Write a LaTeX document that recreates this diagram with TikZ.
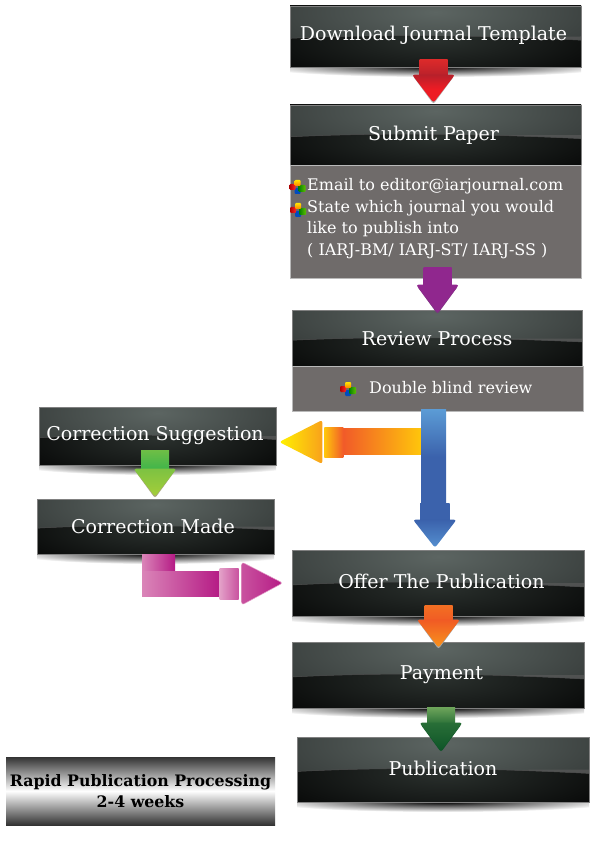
\documentclass[tikz,border=0pt]{standalone}
\usepackage{fontspec}
\setmainfont{DejaVu Serif}
\usetikzlibrary{calc}
\definecolor{glosscore}{HTML}{5C6562}
\definecolor{glossedge}{HTML}{2A2E2D}
\definecolor{lowcore}{HTML}{2A302D}
\definecolor{graybody}{HTML}{6F6B6A}
\definecolor{cRedA}{HTML}{DD2A2A}\definecolor{cRedB}{HTML}{B7202A}\definecolor{cRedC}{HTML}{ED1C24}
\definecolor{cPurple}{HTML}{90278E}\definecolor{cPurpleS}{HTML}{7A3580}
\definecolor{cLimeA}{HTML}{6EBE46}\definecolor{cLimeB}{HTML}{3CB44B}\definecolor{cLimeC}{HTML}{7DC242}\definecolor{cLimeD}{HTML}{A6CE39}\definecolor{cLimeS}{HTML}{AAA582}
\definecolor{cOrA}{HTML}{F26F23}\definecolor{cOrB}{HTML}{F15A24}\definecolor{cOrC}{HTML}{F7941D}
\definecolor{cFoA}{HTML}{6EA55A}\definecolor{cFoB}{HTML}{286E37}\definecolor{cFoC}{HTML}{0F5528}
\definecolor{cBlA}{HTML}{5B9BD5}\definecolor{cBlB}{HTML}{3B62AC}\definecolor{cBlC}{HTML}{5590D0}
\definecolor{cYeA}{HTML}{FFF200}\definecolor{cYeB}{HTML}{FFC60B}\definecolor{cYeC}{HTML}{F15A29}\definecolor{cYeD}{HTML}{F9A11B}
\definecolor{cMaA}{HTML}{DA85B8}\definecolor{cMaB}{HTML}{B51B85}\definecolor{cMaC}{HTML}{C9529F}\definecolor{cMaD}{HTML}{E3A0C8}
\tikzset{
  x=1pt,y=-1pt,
  titletext/.style={text=white,font=\fontsize{19}{22}\selectfont},
  bodytext/.style={text=white,font=\fontsize{16}{21.7}\selectfont},
  grayboxstyle/.style={fill=graybody,draw=gray!55,line width=.5pt,inner sep=0pt},
  redshaft/.style={top color=cRedA,bottom color=cRedB},
  redhead/.style={top color=cRedB,bottom color=cRedC,middle color=cRedC},
  redshadow/.style={fill=gray!60},
  purpleshaft/.style={top color=cPurple,bottom color=cPurple},
  purplehead/.style={top color=cPurple,bottom color=cPurple},
  purpleshadow/.style={fill=cPurpleS},
  limeshaft/.style={top color=cLimeA,bottom color=cLimeB},
  limehead/.style={top color=cLimeC,bottom color=cLimeD},
  limeshadow/.style={fill=cLimeS},
  orangeshaft/.style={top color=cOrA,bottom color=cOrB},
  orangehead/.style={top color=cOrB,bottom color=cOrC},
  orangeshadow/.style={fill=gray!70},
  forestshaft/.style={top color=cFoA,bottom color=cFoB},
  foresthead/.style={top color=cFoB,bottom color=cFoC},
  forestshadow/.style={fill=cFoC},
}
\newcommand\panel[8]{% name x0 y0 x1 y1 text dx dy
  \pgfmathsetmacro\pW{#4-#2}\pgfmathsetmacro\pH{#5-#3}
  \pgfmathsetmacro\pCx{(#2+#4)/2}\pgfmathsetmacro\pCy{(#3+#5)/2}
  \begin{scope}
    \clip (#2,#5) rectangle (#4,#5+12);
    \shade[inner color=black,outer color=white] (\pCx,#5) ellipse ({\pW*.6} and 10);
  \end{scope}
  \begin{scope}[shift={(#2,#3)}]
    \clip (0,0) rectangle (\pW,\pH);
    \fill[black] (0,0) rectangle (\pW,\pH);
    \shade[inner color=lowcore,outer color=black] (\pW/2,.55*\pH) ellipse ({.8*\pW} and {.95*\pH});
    \begin{scope}
      \clip (0,0) -- (\pW,0) -- (\pW,.56*\pH) .. controls (.7*\pW,.49*\pH) and (.35*\pW,.45*\pH) .. (0,.53*\pH) -- cycle;
      \fill[glossedge] (0,0) rectangle (\pW,\pH);
      \shade[inner color=glosscore,outer color=glossedge] (\pW/2,.1*\pH) ellipse ({.85*\pW} and {1.2*\pH});
    \end{scope}
    \fill[gray!70!black,opacity=.7] (.72*\pW,.505*\pH) .. controls (.85*\pW,.53*\pH) and (.92*\pW,.54*\pH) .. (\pW,.56*\pH) -- (\pW,.5*\pH) -- cycle;
    \draw[gray!60!black,line width=.5pt] (\pW,.56*\pH) .. controls (.7*\pW,.49*\pH) and (.35*\pW,.45*\pH) .. (0,.53*\pH);
  \end{scope}
  \node[minimum width=\pW pt,minimum height=\pH pt,inner sep=0pt,titletext,draw=gray,line width=.6pt]
    (#1) at (\pCx,\pCy) {\hspace*{#7pt}\hspace*{#7pt}\raisebox{#8pt}{#6}};
}
\newcommand\blockdown[6]{% from to dx topoff tipoff stylePrefix
  \coordinate (bdS) at ($(#1.south)+(#3,#4)$);
  \coordinate (bdT) at ($(bdS |- #2.north)+(0,#5)$);
  \fill[#6shadow,rounded corners=2.5pt] ($(bdT)+(-20.5,-26.5)$) -- ($(bdT)+(20.5,-26.5)$) -- ($(bdT)+(0,1.5)$) -- cycle;
  \shade[#6shaft] ($(bdS)+(-14,0)$) rectangle ($(bdT)+(14,-26)$);
  \shade[#6head,rounded corners=2.5pt] ($(bdT)+(-21.5,-28)$) -- ($(bdT)+(21.5,-28)$) -- (bdT) -- cycle;
}
\newcommand\cubes[1]{%
  \begin{scope}[shift={(#1)}]
    \fill[blue!60!cyan!75!black,rounded corners=1pt] (-3,1) rectangle (3,7);
    \shade[left color=red!70!black,right color=red!85!white,rounded corners=1pt] (-8,-3) rectangle (-2,3);
    \shade[left color=green!50!black,right color=green!50!yellow!75!black,rounded corners=1pt] (1,-2) rectangle (8,5);
    \shade[top color=yellow!80!orange,bottom color=orange,rounded corners=1pt] (-3,-7) rectangle (3,-1);
  \end{scope}
}
\begin{document}
\begin{tikzpicture}
\useasboundingbox (0,0) rectangle (595,842);
\fill[white] (0,0) rectangle (595,842);
% panels
\panel{p1}{290}{6}{581}{67}{Download Journal Template}{-2}{6.5}
\panel{p2}{290}{105}{581}{165}{Submit Paper}{-2}{4}
\panel{p3}{292}{310}{582}{367}{Review Process}{0}{-5}
\panel{p4}{39}{407}{276}{465}{Correction Suggestion}{-2.5}{3}
\panel{p5}{37}{499}{274}{554}{Correction Made}{-2.5}{0.5}
\panel{p6}{292}{550}{584}{616}{Offer The Publication}{3.5}{3}
\panel{p7}{292}{642}{584}{708}{Payment}{3.5}{-1}
\panel{p8}{297}{737}{589}{802}{Publication}{0}{1.5}
% grey bodies
\node[grayboxstyle,minimum width=291pt,minimum height=113pt] (b2) at (435.5,221.5) {};
\node[grayboxstyle,minimum width=291pt,minimum height=45pt] (b3) at (437.5,389) {};
\node[bodytext,anchor=north west,align=left,inner sep=0pt] (b2text) at (307,178) {Email to editor@iarjournal.com\\State which journal you would\\like to publish into\\( IARJ-BM/ IARJ-ST/ IARJ-SS )};
\node[bodytext,anchor=west,inner sep=0pt] (b3text) at (369,388) {Double blind review};
\cubes{297.5,187}
\cubes{298,210}
\cubes{348,389}
% rapid box
\node[minimum width=269pt,minimum height=68pt,inner sep=0pt,align=center,
  top color=black!80,bottom color=black!80,middle color=white,
  font=\fontsize{15.8}{21}\selectfont\bfseries,text=black] (rapid) at (140.5,791) {Rapid Publication Processing\\2-4 weeks};
% plain down arrows
\blockdown{p1}{p2}{-2}{-8}{-2}{red}
\blockdown{b2}{p3}{2}{-11}{3}{purple}
\blockdown{p4}{p5}{-2.5}{-15}{-2}{lime}
\blockdown{p6}{p7}{0.5}{-11}{6}{orange}
\blockdown{p7}{p8}{3}{-1}{14}{forest}
% yellow-orange left arrow
\coordinate (ya) at ($(b3.south)+(-16.5,30)$);
\coordinate (yt) at ($(p4.east)+(3,6)$);
\shade[left color=cYeC,middle color=cYeD,right color=cYeB]
  ($(ya)+(-78,-13)$) rectangle ($(ya)+(0,13)$);
\shade[left color=cYeB,right color=cYeC]
  ($(yt)+(45,-15)$) rectangle ($(yt)+(64,15)$);
\shade[left color=cYeA,middle color=cYeB,right color=cYeD,rounded corners=2.5pt]
  (yt) -- ($(yt)+(43,-22)$) -- ($(yt)+(43,22)$) -- cycle;
% blue arrow
\coordinate (bs) at ($(b3.south)+(-4,-2)$);
\coordinate (bt) at ($(p6.north)+(-3,-2)$);
\shade[top color=cBlA,bottom color=cBlB,middle color=cBlB]
  ($(bs)+(-12.5,0)$) rectangle ($(bt)+(11,-44)$);
\shade[top color=cBlB,bottom color=cBlB]
  ($(bt)+(-15,-44)$) rectangle ($(bt)+(14.5,-27)$);
\shade[top color=cBlB,bottom color=cBlC,rounded corners=2.5pt]
  ($(bt)+(-22,-28)$) -- ($(bt)+(21.5,-28)$) -- (bt) -- cycle;
% magenta arrow
\coordinate (ms) at ($(p5.south)+(-13.5,0)$);
\coordinate (mt) at ($(p6.west)+(-9,0)$);
\shade[left color=cMaA,right color=cMaB] (ms) rectangle ($(ms)+(33,17)$);
\shade[left color=cMaA,right color=cMaB] ($(ms)+(0,17)$) rectangle ($(mt)+(-63,13)$);
\shade[left color=cMaD,right color=cMaC] ($(mt)+(-63,-15)$) rectangle ($(mt)+(-44,16)$);
\shade[left color=cMaC,right color=cMaB,draw=cMaD,line width=.5pt,rounded corners=2.5pt]
  ($(mt)+(-41,-21)$) -- (mt) -- ($(mt)+(-41,22)$) -- cycle;
\end{tikzpicture}
\end{document}
